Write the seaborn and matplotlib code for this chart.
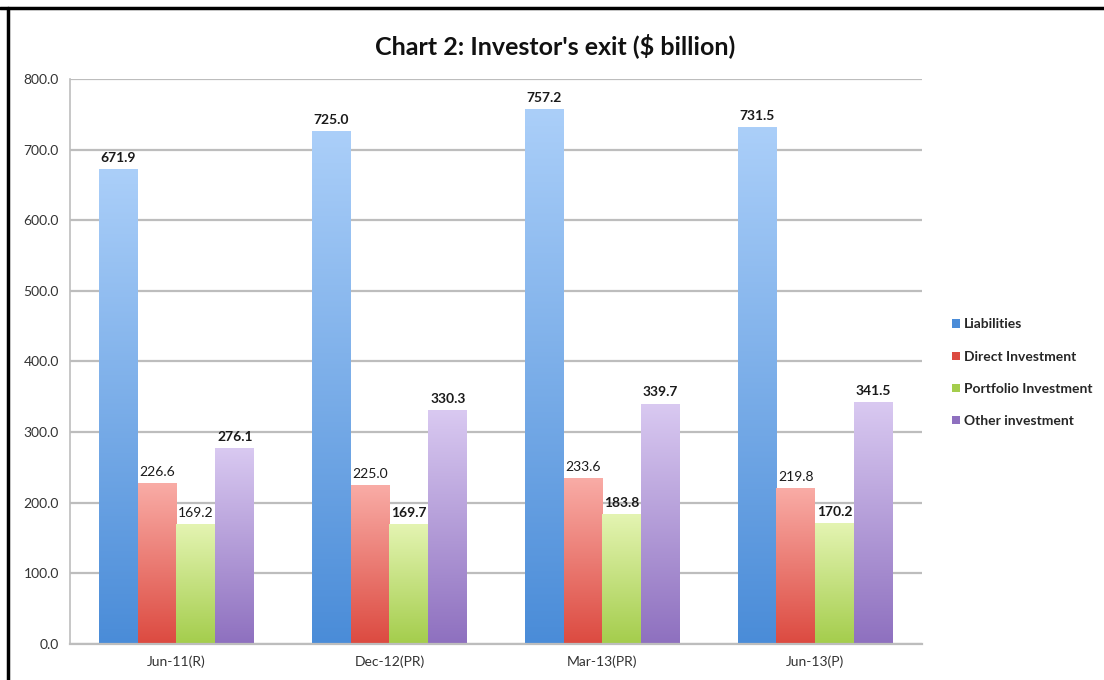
#!/usr/bin/env python3
"""Chart 2: Investor's exit ($ billion) - grouped bars with gradient fill"""

import matplotlib
matplotlib.use('Agg')
import matplotlib.pyplot as plt
import seaborn as sns
import pandas as pd
import numpy as np
from matplotlib.colors import LinearSegmentedColormap
from matplotlib.patches import Patch
from matplotlib.lines import Line2D

# Dados
periods = ['Jun-11(R)', 'Dec-12(PR)', 'Mar-13(PR)', 'Jun-13(P)']
series = ['Liabilities', 'Direct Investment', 'Portfolio Investment', 'Other investment']
liabilities = [671.9, 725.0, 757.2, 731.5]
direct_inv = [226.6, 225.0, 233.6, 219.8]
portfolio_inv = [169.2, 169.7, 183.8, 170.2]
other_inv = [276.1, 330.3, 339.7, 341.5]

# rótulos em negrito (como no original)
label_bold = {
    'Liabilities': [True, True, True, True],
    'Direct Investment': [False, False, False, False],
    'Portfolio Investment': [False, True, True, True],
    'Other investment': [True, True, True, True],
}

# cores (topo, base) para o degradê
grad_colors = {
    'Liabilities': ('#abcff9', '#4a8cd8'),
    'Direct Investment': ('#f9aca6', '#dc4a40'),
    'Portfolio Investment': ('#e4f4b2', '#a4cd4c'),
    'Other investment': ('#d9c9f1', '#8e70bf'),
}

values = [liabilities, direct_inv, portfolio_inv, other_inv]
rows = []
for s, vals in zip(series, values):
    for p, v in zip(periods, vals):
        rows.append({'Period': p, 'Series': s, 'Value': v})
df = pd.DataFrame(rows)

sns.set_theme(style='white')
plt.rcParams['font.family'] = ['Lato', 'DejaVu Sans']

fig = plt.figure(figsize=(11.04, 6.8), dpi=100)
ax = fig.add_axes([0.0634, 0.0529, 0.7716, 0.8311])

sns.barplot(data=df, x='Period', y='Value', hue='Series', order=periods,
            hue_order=series, width=0.73, gap=0, ax=ax, legend=False,
            palette=[grad_colors[s][1] for s in series], saturation=1)

ax.set_ylim(0, 800)
xlim = ax.get_xlim()

# degradê nas barras
grad = np.linspace(0, 1, 256).reshape(-1, 1)
for s, cont in zip(series, ax.containers):
    top, bottom = grad_colors[s]
    cmap = LinearSegmentedColormap.from_list(s, [bottom, top])
    for j, bar in enumerate(cont):
        x0, w, h = bar.get_x(), bar.get_width(), bar.get_height()
        ax.imshow(grad, extent=[x0, x0 + w, 0, h], origin='lower',
                  aspect='auto', cmap=cmap, zorder=2)
        bar.set_facecolor('none')
        bar.set_edgecolor('none')
        ax.annotate(f'{h:.1f}', (x0 + w / 2, h), xytext=(0, 4),
                    textcoords='offset points', ha='center', va='bottom',
                    fontsize=10, color='#1a1a1a',
                    fontweight='bold' if label_bold[s][j] else 'normal')

ax.set_xlim(xlim)
ax.set_ylim(0, 800)

# grade e eixos
ax.set_yticks(np.arange(0, 801, 100))
ax.set_yticklabels([f'{v:.1f}' for v in np.arange(0, 801, 100)])
ax.yaxis.grid(True, color='#bdbdbd', linewidth=1.6)
ax.set_axisbelow(True)
for side in ['top', 'right']:
    ax.spines[side].set_visible(False)
ax.spines['left'].set_color('#bdbdbd')
ax.spines['bottom'].set_color('#bdbdbd')
ax.spines['left'].set_linewidth(1.2)
ax.spines['bottom'].set_linewidth(1.6)
ax.tick_params(axis='both', length=0, labelsize=10, labelcolor='#333333', pad=8)
ax.set_xlabel('')
ax.set_ylabel('')

fig.suptitle("Chart 2: Investor's exit (\\$ billion)", x=0.503, y=0.952,
             fontsize=18, fontweight='bold', color='#111111')

# legenda
handles = [Patch(facecolor=grad_colors[s][1], edgecolor='none') for s in series]
fig.legend(handles, series, loc='upper left', bbox_to_anchor=(0.851, 0.55),
           frameon=False, handlelength=0.55, handleheight=0.55, handletextpad=0.3,
           labelspacing=1.45, prop={'size': 10, 'weight': 'bold'})

# moldura preta (topo e esquerda)
fig.add_artist(Line2D([0, 1], [0.988, 0.988], transform=fig.transFigure,
                      color='black', linewidth=2.5))
fig.add_artist(Line2D([0.007, 0.007], [0, 0.988], transform=fig.transFigure,
                      color='black', linewidth=2.5))

fig.savefig('out.png', dpi=100)
